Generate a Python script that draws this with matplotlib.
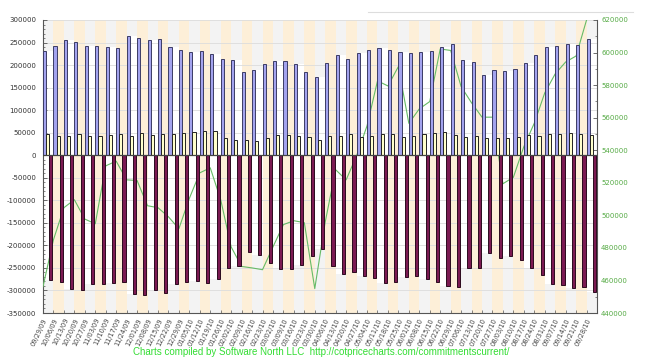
import numpy as np
import matplotlib
matplotlib.use('Agg')
import matplotlib.pyplot as plt
import matplotlib.ticker as tkr
from matplotlib.lines import Line2D

# weekly report dates
dates = ['09/29/09', '10/06/09', '10/13/09', '10/20/09', '10/27/09', '11/03/09', '11/10/09',
         '11/17/09', '11/24/09', '12/01/09', '12/08/09', '12/15/09', '12/22/09', '12/29/09',
         '01/05/10', '01/12/10', '01/19/10', '01/26/10', '02/02/10', '02/09/10', '02/16/10',
         '02/23/10', '03/02/10', '03/09/10', '03/16/10', '03/23/10', '03/30/10', '04/06/10',
         '04/13/10', '04/20/10', '04/27/10', '05/04/10', '05/11/10', '05/18/10', '05/25/10',
         '06/01/10', '06/08/10', '06/15/10', '06/22/10', '06/29/10', '07/06/10', '07/13/10',
         '07/20/10', '07/27/10', '08/03/10', '08/10/10', '08/17/10', '08/24/10', '08/31/10',
         '09/07/10', '09/14/10', '09/21/10', '09/28/10']

longs = [231800, 241500, 254800, 250400, 243000, 243000, 240000, 237000, 263700, 259300,
         254800, 257000, 240000, 232600, 228900, 231100, 223700, 212600, 210400, 183700,
         189600, 201500, 208100, 209600, 202200, 185200, 174100, 205200, 221500, 212600,
         226700, 232600, 237000, 232600, 228900, 226700, 229600, 230300, 239200, 245900,
         210400, 206000, 177800, 188900, 185900, 191900, 205200, 221500, 240000, 241500,
         245900, 244400, 258500]

spreads = [46000, 42200, 42200, 48100, 42200, 43700, 45200, 46700, 43700, 50400,
           45200, 48100, 48100, 50400, 51900, 54800, 53300, 37800, 34800, 33300,
           31100, 37800, 45200, 44400, 42200, 41500, 34800, 42200, 43700, 46700,
           40700, 42200, 46700, 48100, 40700, 43700, 46000, 50400, 51900, 45200,
           41500, 43700, 37800, 39200, 37800, 40700, 45200, 43700, 46700, 48100,
           49600, 48100, 45200]

shorts = [-276300, -282200, -297000, -298500, -285200, -285200, -283700, -282200, -307400, -310400,
          -300000, -305200, -286700, -280800, -279300, -283700, -275000, -249600, -245200, -214800,
          -220700, -239300, -253300, -253300, -243700, -224400, -208100, -246700, -264400, -258500,
          -267400, -273300, -283700, -280800, -270300, -268900, -274100, -281500, -290400, -291900,
          -249600, -249600, -216300, -228900, -223000, -231900, -249600, -265900, -285900, -288900,
          -294800, -293300, -304400]

open_interest = [456200, 485000, 504700, 509600, 497700, 494800, 530400, 533300, 521800, 521400,
                 505900, 504700, 499100, 491800, 510400, 526100, 529200, 509600, 480600, 468600,
                 467700, 466600, 480600, 494300, 496700, 495500, 455000, 496000, 528000, 521800,
                 536600, 555000, 582600, 579500, 591400, 556500, 565400, 569900, 602200, 601300,
                 579100, 569100, 560300, 560300, 519400, 523400, 542200, 556600, 575200, 586900,
                 594200, 597900, 620000]

ymin, ymax = -350000, 300000
rmin, rmax = 440000, 620000

fig = plt.figure(figsize=(6.45, 3.6), dpi=100)
fig.subplots_adjust(left=43/645, right=597/645, bottom=1-313/360, top=1-20/360)
ax = fig.add_subplot(111)

x = np.arange(len(dates))
L = np.array(longs)
S = np.array(shorts)

# background bands: orange on odd slots, grey on even slots (white between short and long)
odd = x[1::2]
even = x[0::2]
ax.bar(odd, ymax - ymin, bottom=ymin, width=1, align='edge', color='#fdefd8', zorder=0)
ax.bar(even, ymax - L[even], bottom=L[even], width=1, align='edge', color='#f3f3f3', zorder=0)
ax.bar(even, S[even] - ymin, bottom=ymin, width=1, align='edge', color='#f3f3f3', zorder=0)

ax.set_axisbelow(True)
ax.yaxis.grid(True, color='#dcdcdc', lw=0.6)
ax.set_xlim(0, len(dates))
ax.set_ylim(ymin, ymax)
ax.set_yticks(np.arange(ymin, ymax + 1, 50000))
ax.yaxis.set_minor_locator(tkr.MultipleLocator(10000))
ax.yaxis.set_major_formatter(tkr.FuncFormatter(lambda v, p: '%d' % v))
ax.set_xticks(x)
ax.set_xticklabels(dates, rotation=65, ha='right', va='top', rotation_mode='anchor',
                   fontsize=4.8, color='#444444')
ax.tick_params(axis='y', which='major', direction='in', length=3, width=0.6,
               labelsize=5, labelcolor='#333333', pad=5, color='#555555')
ax.tick_params(axis='y', which='minor', direction='in', length=1.5, width=0.5, color='#555555')
ax.tick_params(axis='x', direction='in', length=2, width=0.5, pad=3, color='#555555')
for s in ['top', 'right']:
    ax.spines[s].set_visible(False)
for s in ['left', 'bottom']:
    ax.spines[s].set_color('#555555')
    ax.spines[s].set_linewidth(0.8)

# open interest on right axis (behind the bars)
ax2 = ax.twinx()
ax2.plot(x, open_interest, color='#66bb66', lw=0.8)
ax2.set_ylim(rmin, rmax)
ax2.set_yticks(np.arange(rmin, rmax + 1, 20000))
ax2.yaxis.set_minor_locator(tkr.MultipleLocator(10000))
ax2.yaxis.set_major_formatter(tkr.FuncFormatter(lambda v, p: '%d' % v))
ax2.tick_params(axis='y', which='major', direction='in', length=3, width=0.6,
                labelsize=5, labelcolor='#55aa44', pad=3, color='#555555')
ax2.tick_params(axis='y', which='minor', direction='in', length=1.5, width=0.5, color='#555555')
for s in ['top', 'left', 'bottom']:
    ax2.spines[s].set_visible(False)
ax2.spines['right'].set_color('#555555')
ax2.spines['right'].set_linewidth(0.8)
ax2.patch.set_visible(False)

# bars on top
ax3 = ax.twinx()
ax3.set_ylim(ymin, ymax)
ax3.bar(x, longs, width=0.3, align='edge', color='#a3a3ee', edgecolor='#3c3c66', lw=0.7)
ax3.bar(x + 0.3, spreads, width=0.3, align='edge', color='#ffffcc', edgecolor='#222222', lw=0.7)
ax3.bar(x + 0.6, shorts, width=0.3, align='edge', color='#7b1a52', edgecolor='#2b0a1e', lw=0.7)
ax3.axhline(0, color='#444444', lw=0.9)
ax3.set_yticks([])
for s in ax3.spines.values():
    s.set_visible(False)
ax3.patch.set_visible(False)

ax.set_zorder(0)
ax2.set_zorder(1)
ax3.set_zorder(2)

fig.add_artist(Line2D([368/645, 633/645], [1-12/360, 1-12/360], color='#dddddd', lw=0.8))
fig.text(0.498, 0.022, 'Charts compiled by Software North LLC  http://cotpricecharts.com/commitmentscurrent/',
         ha='center', va='center', color='#33dd33', fontsize=7, family='Liberation Sans')

plt.savefig('out.png', dpi=100)
